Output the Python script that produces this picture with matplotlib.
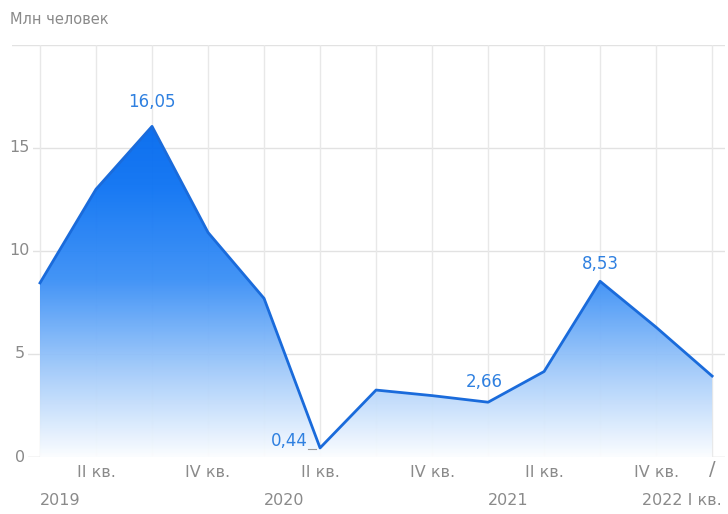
import numpy as np
import matplotlib.pyplot as plt
from matplotlib.colors import LinearSegmentedColormap

# квартальные значения, млн человек (I кв. 2019 - I кв. 2022)
values = [8.45, 13.0, 16.05, 10.9, 7.7, 0.44, 3.25, 2.98, 2.66, 4.15, 8.53, 6.3, 3.93]
quarter_labels = ['', 'II кв.', '', 'IV кв.', '', 'II кв.', '', 'IV кв.', '', 'II кв.', '', 'IV кв.', '']
years = ['2019', '2020', '2021']
year_pos = [0, 4, 8]
last_label = '2022 I кв.'
annotated = {2: (0, 11, 'center'), 5: (-9, 5, 'right'), 8: (-3, 8, 'center'), 10: (0, 6, 'center')}
yticks = [0, 5, 10, 15, 20]

x = np.arange(len(values))
line_color = '#1a6bdb'
text_color = '#2f80e0'
gray = '#8a8a8a'

fig = plt.figure(figsize=(7.28, 5.14), dpi=100)
ax = fig.add_axes([12 / 728, 57 / 514, 713 / 728, 412 / 514])
ax.set_xlim(-0.5, 12.23)
ax.set_ylim(0, 20)

# сетка под заливкой
for v in yticks:
    ax.axhline(v, color='#e2e2e2' if v else '#d0d0d0', lw=1, zorder=0.5)
for xi in x:
    ax.axvline(xi, color='#e8e8e8', lw=1, zorder=0.5)

# градиентная заливка под линией
cmap = LinearSegmentedColormap.from_list(
    'fade', [(0.0, '#fbfdff'), (0.25, '#a3cbfa'), (0.52, '#3a8ff6'), (0.8, '#0b72f3'), (1.0, '#0067ee')])
grad = np.linspace(0, 1, 256).reshape(-1, 1)
fill = ax.fill_between(x, values, 0, color='none', lw=0)
img = ax.imshow(grad, cmap=cmap, origin='lower', aspect='auto', alpha=0.95,
                extent=[x[0], x[-1], 0, 16.5], zorder=1)
img.set_clip_path(fill.get_paths()[0], transform=ax.transData)

ax.plot(x, values, color=line_color, lw=2, zorder=3, solid_joinstyle='round')

for i, (dx, dy, ha) in annotated.items():
    ax.annotate(f'{values[i]:.2f}'.replace('.', ','), (x[i], values[i]),
                xytext=(dx, dy), textcoords='offset points', ha=ha,
                va='bottom' if dy > 5 else 'center', fontsize=12, color=text_color,
                zorder=4)
# короткая выноска у минимума
ax.plot([x[5] - 0.22, x[5] - 0.08], [values[5] - 0.05, values[5] - 0.05],
        color='#9a9a9a', lw=0.8, zorder=4)

for v in yticks[:-1]:
    ax.text(-0.36, v, str(v), ha='center', va='center', fontsize=11.5, color=gray,
            bbox=dict(facecolor='white', edgecolor='none', pad=2), zorder=5)

for xi, lab in zip(x, quarter_labels):
    if lab:
        ax.text(xi, -0.4, lab, ha='center', va='top', fontsize=11.5, color=gray, clip_on=False)
for p, yr in zip(year_pos, years):
    ax.text(p, -1.75, yr, ha='left', va='top', fontsize=11.5, color=gray, clip_on=False)
ax.text(12.18, -1.75, last_label, ha='right', va='top', fontsize=11.5, color=gray, clip_on=False)
ax.text(x[-1], -0.15, '/', ha='center', va='top', fontsize=14, color=gray, clip_on=False)

fig.text(10 / 728, 1 - 20 / 514, 'Млн человек', ha='left', va='center', fontsize=10.5, color=gray)

for s in ax.spines.values():
    s.set_visible(False)
ax.set_xticks([])
ax.set_yticks([])

fig.savefig('out.png', dpi=100)
